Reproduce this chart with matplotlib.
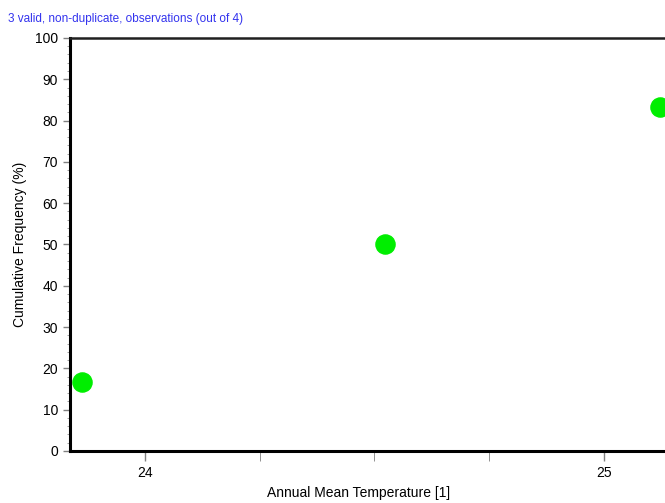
import matplotlib.pyplot as plt
from matplotlib.ticker import MultipleLocator

plt.rcParams['font.family'] = ['Liberation Sans', 'DejaVu Sans']

# Data
temperature = [23.863, 24.523, 25.122]
cum_freq = [16.7, 50.0, 83.3]
x_ticks = [24, 25]

fig = plt.figure(figsize=(6.65, 5.03), dpi=100)
ax = fig.add_axes([0.1053, 0.1034, 0.8947, 0.8211])

ax.scatter(temperature, cum_freq, s=190, color='#00ee00', zorder=3, clip_on=False)

ax.set_xlim(23.837, 25.133)
ax.set_ylim(0, 100)
ax.set_xticks(x_ticks)
ax.xaxis.set_minor_locator(MultipleLocator(0.25))
ax.yaxis.set_major_locator(MultipleLocator(10))
ax.yaxis.set_minor_locator(MultipleLocator(2))

ax.tick_params(axis='both', which='major', labelsize=10, color='#808080', width=1)
ax.tick_params(axis='x', which='both', length=7, color='#808080')
ax.tick_params(axis='y', which='major', length=5)
ax.tick_params(axis='y', which='minor', length=2, color='#909090')

ax.spines['right'].set_visible(False)
ax.spines['left'].set_linewidth(2.2)
ax.spines['bottom'].set_linewidth(2.2)
ax.spines['top'].set_linewidth(1.8)
ax.spines['top'].set_color('#202020')

ax.set_xlabel('Annual Mean Temperature [1]', fontsize=10)
ax.set_ylabel('Cumulative Frequency (%)', fontsize=10)
ax.xaxis.set_label_coords(0.485, -0.085)
ax.yaxis.set_label_coords(-0.073, 0.5)

fig.text(0.012, 0.975, '3 valid, non-duplicate, observations (out of 4)',
         color='#3333ee', fontsize=8.5, va='top', ha='left')

fig.savefig('out.png', dpi=100)
